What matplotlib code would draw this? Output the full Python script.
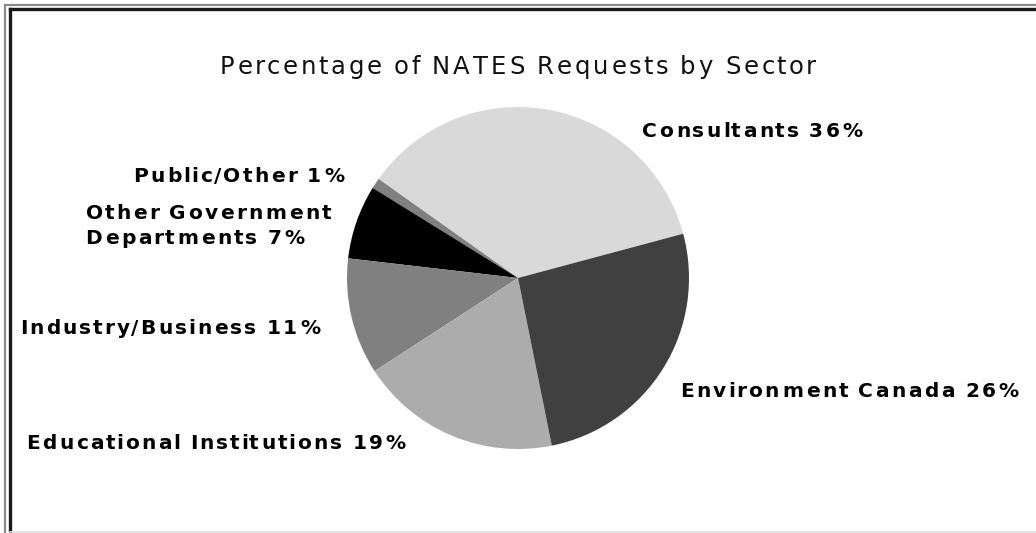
import matplotlib
matplotlib.use("Agg")
import matplotlib.pyplot as plt
from matplotlib.lines import Line2D
from matplotlib import font_manager
from matplotlib.ft2font import FT2Font, LoadFlags

# Share of NATES requests, by sector (percent)
sectors = ["Consultants", "Public/Other", "Other Government\nDepartments",
           "Industry/Business", "Educational Institutions", "Environment Canada"]
shares = [36, 1, 7, 11, 19, 26]
colors = ["#d9d9d9", "#808080", "#000000", "#808080", "#acacac", "#404040"]
title = "Percentage of NATES Requests by Sector"

W, H = 1036, 533
DPI = 100
fig = plt.figure(figsize=(W / DPI, H / DPI), dpi=DPI)
ax = fig.add_axes([0, 0, 1, 1])
ax.set_aspect("equal")
ax.axis("off")


def py(y):
    # convert a top-down pixel row into data y
    return H - y


ax.pie(shares, colors=colors, startangle=15, counterclock=True,
       center=(518, py(278)), radius=171,
       wedgeprops=dict(linewidth=0))
ax.set_xlim(0, W)
ax.set_ylim(0, H)


def advances(s, size_pt, weight):
    """Horizontal advance (pixels) of each character of s."""
    prop = font_manager.FontProperties(family="DejaVu Sans", weight=weight)
    font = FT2Font(font_manager.findfont(prop), hinting_factor=1)
    font.set_size(size_pt * DPI / 72, 72)
    return [font.load_char(ord(c), flags=LoadFlags.NO_HINTING).linearHoriAdvance / 65536
            for c in s]


def wide_text(x, y, s, size_pt, weight, spread, color, align="left"):
    """Draw one line of text whose advances are widened by `spread`,
    baseline at pixel row y."""
    adv = [a * spread for a in advances(s, size_pt, weight)]
    width = sum(adv)
    if align == "center":
        x = x - width / 2
    elif align == "right":
        x = x - width
    for c, a in zip(s, adv):
        if c != " ":
            ax.text(x + a * (1 - 1 / spread) / 2, py(y), c, ha="left",
                    va="baseline", fontsize=size_pt, fontweight=weight,
                    color=color, family="DejaVu Sans")
        x += a


wide_text(517.5, 74, title, 17.5, "normal", 1.21, "#111111", align="center")

labels = [f"{s} {v}%" for s, v in zip(sectors, shares)]
# left edge and first baseline of each label (pixels)
anchors = [(641, 137), (132, 182), (84, 219), (19, 334), (25, 449), (679, 397)]
line_gap = 25
for text, (x, y) in zip(labels, anchors):
    for i, line in enumerate(text.split("\n")):
        wide_text(x, y + i * line_gap, line, 14.5, "bold", 1.18, "#000000")

# double frame on the top and left, faint rule at the bottom
ax.add_line(Line2D([5, 5], [0, py(4.5)], color="#8a8a8a", lw=1.6))
ax.add_line(Line2D([5, W], [py(4.5), py(4.5)], color="#8a8a8a", lw=1.6))
ax.add_line(Line2D([9.5, 9.5], [0, py(8.5)], color="#1a1a1a", lw=2.4))
ax.add_line(Line2D([9.5, W], [py(8.5), py(8.5)], color="#1a1a1a", lw=2.4))
ax.add_line(Line2D([10, W], [py(531.5), py(531.5)], color="#e0e0e0", lw=1.2))

fig.savefig("out.png", dpi=DPI)
